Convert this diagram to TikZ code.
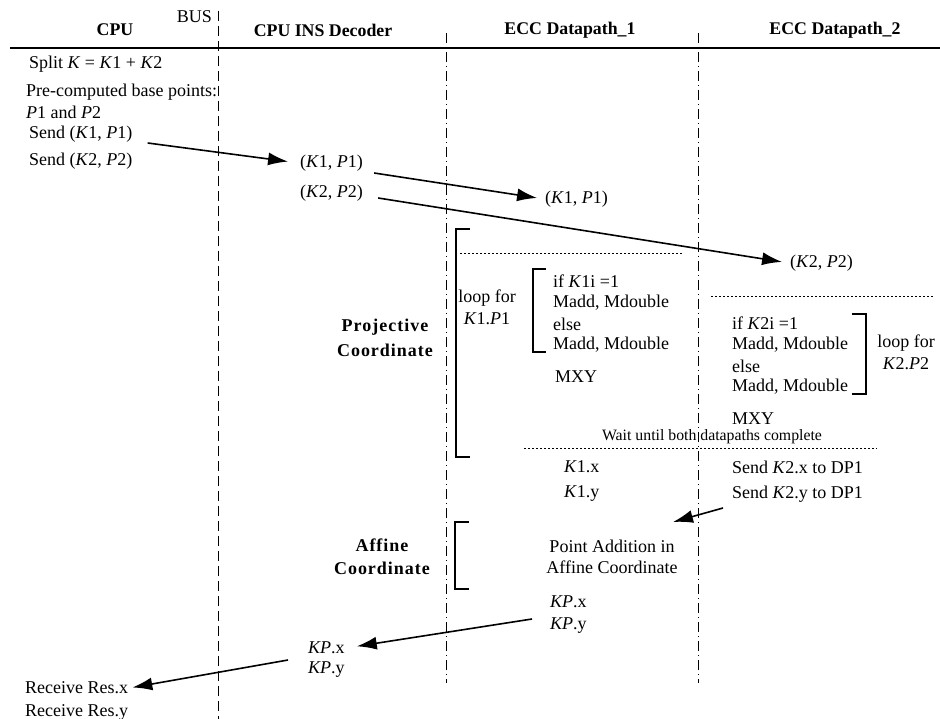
\documentclass[tikz,border=0pt]{standalone}
\usepackage{fontspec}
\setmainfont{Liberation Serif}
\usetikzlibrary{arrows.meta}

\begin{document}
\begin{tikzpicture}[x=1pt,y=-1pt,
    txt/.style={font=\fontsize{18}{20}\selectfont, inner sep=1pt, anchor=west},
    ctr/.style={font=\fontsize{18}{20}\selectfont, inner sep=1pt},
    head/.style={font=\fontsize{17.8}{20}\selectfont\bfseries, inner sep=1pt},
    part/.style={font=\fontsize{18}{20}\selectfont\bfseries\addfontfeature{LetterSpace=5.5}, inner sep=1pt},
    small/.style={font=\fontsize{15.8}{18}\selectfont, inner sep=1pt},
    bus/.style={line width=1pt, dash pattern=on 10pt off 5pt},
    lane/.style={line width=1pt, dash pattern=on 10pt off 4pt on 1pt off 4pt},
    sep/.style={line width=0.9pt, dash pattern=on 2pt off 2pt},
    brack/.style={line width=1.8pt},
    msg/.style={line width=1.6pt, -{Latex[length=20pt,width=13pt]}}]
  \useasboundingbox (0,0) rectangle (940,719);
  % lanes
  \node[ctr, anchor=east] (bus) at (213,17) {BUS};
  \node[head] (hcpu) at (115,30) {CPU};
  \node[head] (hdec) at (323,30) {CPU INS Decoder};
  \node[head] (hdpa) at (570,30) {ECC Datapath\_1};
  \node[head] (hdpb) at (835,30) {ECC Datapath\_2};
  \draw[line width=1.5pt] (10,48) -- (940,48);
  \draw[bus] (218,11) -- (218,719);
  \draw[lane] (446,33) -- (446,683);
  \draw[lane] (698,33) -- (698,683);

  % CPU
  \node[txt] (split) at (28,64) {Split \textit{K} = \textit{K}1 + \textit{K}2};
  \node[txt] (pre) at (25,92) {Pre-computed base points:};
  \node[txt] (pts) at (25,112) {\textit{P}1 and \textit{P}2};
  \node[txt] (sendA) at (28,134) {Send (\textit{K}1, \textit{P}1)};
  \node[txt] (sendB) at (28,161) {Send (\textit{K}2, \textit{P}2)};

  % decoder
  \node[txt] (dcA) at (299,163) {(\textit{K}1, \textit{P}1)};
  \node[txt] (dcB) at (299,193) {(\textit{K}2, \textit{P}2)};

  % datapaths
  \node[txt] (dpA) at (544,199) {(\textit{K}1, \textit{P}1)};
  \node[txt] (dpB) at (789,263) {(\textit{K}2, \textit{P}2)};

  \draw[msg, shorten >=11pt] ([xshift=14pt,yshift=-9pt]sendA.east) -- (dcA.west);
  \draw[msg, shorten >=7pt] ([xshift=10pt,yshift=-10pt]dcA.east) -- (dpA.west);
  \draw[msg, shorten >=7pt] ([xshift=14pt,yshift=-5pt]dcB.east) -- (dpB.west);

  % projective part
  \node[part] (proj) at (385,327) {Projective};
  \node[part] (projc) at (385,350) {Coordinate};
  \draw[brack] (470,229) -- (456,229) -- (456,457) -- (470,457);
  \draw[sep] (460,253) -- (683,253);
  \node[ctr] (loopA) at (487,298) {loop for};
  \node[ctr] (loopAk) at (487,319) {\textit{K}1.\textit{P}1};
  \draw[brack] (546,269) -- (533,269) -- (533,352) -- (546,352);
  \node[txt] (ifA) at (552,281) {if \textit{K}1i =1};
  \node[txt] (mA1) at (552,303) {Madd, Mdouble};
  \node[txt] (elA) at (552,324) {else};
  \node[txt] (mA2) at (552,345) {Madd, Mdouble};
  \node[txt] (mxyA) at (554,377) {MXY};

  \draw[sep] (711,296) -- (933,296);
  \node[txt] (ifB) at (731,323) {if \textit{K}2i =1};
  \node[txt] (mB1) at (731,345) {Madd, Mdouble};
  \node[txt] (elB) at (731,366) {else};
  \node[txt] (mB2) at (731,387) {Madd, Mdouble};
  \node[txt] (mxyB) at (731,419) {MXY};
  \draw[brack] (852,314) -- (866,314) -- (866,394) -- (852,394);
  \node[ctr] (loopB) at (906,343) {loop for};
  \node[ctr] (loopBk) at (906,364) {\textit{K}2.\textit{P}2};

  \node[small] (wait) at (712,437) {Wait until both datapaths complete};
  \draw[sep] (524,448) -- (877,448);

  \node[txt] (kxA) at (563,467) {\textit{K}1.x};
  \node[txt] (kyA) at (563,493) {\textit{K}1.y};
  \node[txt] (sendX) at (731,467) {Send \textit{K}2.x to DP1};
  \node[txt] (sendY) at (731,494) {Send \textit{K}2.y to DP1};
  \coordinate (pin) at (673,522);
  \draw[msg] ([xshift=-8pt,yshift=-14pt]sendY.west) -- (pin);

  % affine part
  \node[part] (aff) at (382,545) {Affine};
  \node[part] (affc) at (382,568) {Coordinate};
  \draw[brack] (469,522) -- (455,522) -- (455,589) -- (469,589);
  \node[ctr] (padd) at (612,546) {Point Addition in};
  \node[ctr] (paddc) at (612,567) {Affine Coordinate};
  \node[txt] (kpxA) at (549,602) {\textit{KP}.x};
  \node[txt] (kpyA) at (549,626) {\textit{KP}.y};

  % results
  \node[txt] (kpxD) at (307,648) {\textit{KP}.x};
  \node[txt] (kpyD) at (307,670) {\textit{KP}.y};
  \node[txt] (resx) at (24,688) {Receive Res.x};
  \node[txt] (resy) at (24,712) {Receive Res.y};
  \draw[msg, shorten >=11pt] ([xshift=-17pt,yshift=7pt]kpyA.west) -- (kpxD.east);
  \draw[msg, shorten >=3pt] ([xshift=-19pt,yshift=-12pt]kpxD.west) -- (resx.east);
\end{tikzpicture}
\end{document}
